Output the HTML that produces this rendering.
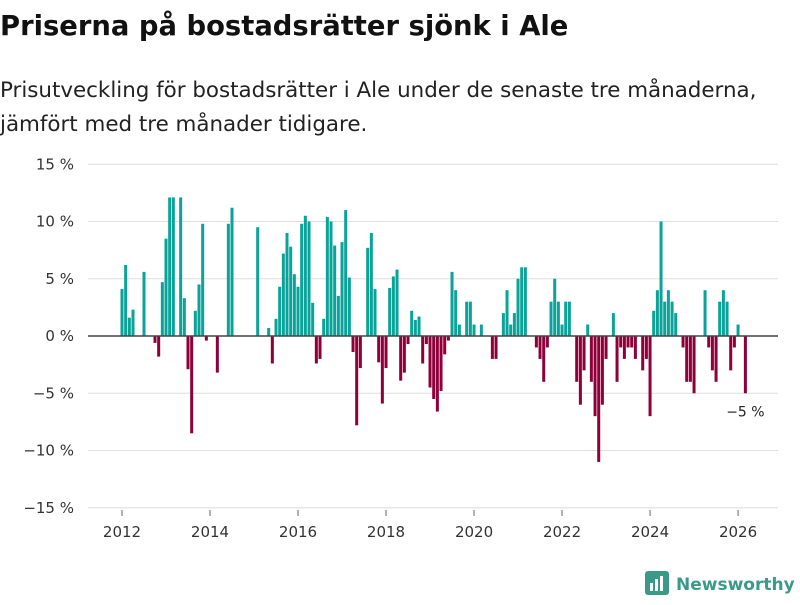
<!DOCTYPE html>
<html><head><meta charset="utf-8"><style>
body{margin:0;background:#fff;width:800px;height:600px;overflow:hidden;font-family:"Liberation Sans","DejaVu Sans",sans-serif;}
svg text{font-family:"DejaVu Sans","Liberation Sans",sans-serif;}
</style></head><body>
<svg id="chart" width="800" height="600" viewBox="0 0 800 600" xmlns="http://www.w3.org/2000/svg">
<text x="0" y="35" font-size="27.4" font-weight="bold" fill="#111">Priserna på bostadsrätter sjönk i Ale</text>
<text x="0" y="97" font-size="21.4" fill="#222">Prisutveckling för bostadsrätter i Ale under de senaste tre månaderna,</text>
<text x="0" y="131" font-size="21.4" fill="#222">jämfört med tre månader tidigare.</text>
<g id="grid"></g><g id="bars"></g><g id="axes"></g>
<g>
<rect x="645" y="571" width="24" height="24" rx="3" fill="#3a9a8a"/>
<rect x="650" y="583" width="3" height="8" fill="#fff"/><rect x="655" y="579" width="3" height="12" fill="#fff"/><rect x="660" y="576" width="3" height="15" fill="#fff"/>
<text x="676" y="590" font-size="17" font-weight="bold" fill="#3a9a8a">Newsworthy</text>
</g>
</svg>
<script>
const startYear = 2012;
const values = [4.1,6.2,1.6,2.3,null,null,5.6,null,null,-0.6,-1.8,4.7,
8.5,12.1,12.1,null,12.1,3.3,-2.9,-8.5,2.2,4.5,9.8,-0.4,
null,null,-3.2,null,null,9.8,11.2,null,null,null,null,null,
null,9.5,null,null,0.7,-2.4,1.5,4.3,7.2,9.0,7.8,5.4,
4.3,9.8,10.5,10.0,2.9,-2.4,-2.0,1.5,10.4,10.0,7.9,3.5,
8.2,11.0,5.1,-1.4,-7.8,-2.8,null,7.7,9.0,4.1,-2.3,-5.9,
-2.8,4.2,5.2,5.8,-3.9,-3.2,-0.7,2.2,1.4,1.7,-2.4,-0.7,
-4.5,-5.5,-6.6,-4.8,-1.6,-0.4,5.6,4.0,1.0,null,3.0,3.0,
1.0,null,1.0,null,null,-2.0,-2.0,null,2.0,4.0,1.0,2.0,
5.0,6.0,6.0,null,null,-1.0,-2.0,-4.0,-1.0,3.0,5.0,3.0,
1.0,3.0,3.0,null,-4.0,-6.0,-3.0,1.0,-4.0,-7.0,-11.0,-6.0,
-2.0,null,2.0,-4.0,-1.0,-2.0,-1.0,-1.0,-2.0,null,-3.0,-2.0,
-7.0,2.2,4.0,10.0,3.0,4.0,3.0,2.0,null,-1.0,-4.0,-4.0,
-5.0,null,null,4.0,-1.0,-3.0,-4.0,3.0,4.0,3.0,-3.0,-1.0,
1.0,null,-5.0];
const yTicks = [15,10,5,0,-5,-10,-15];
const yTickLabels = ["15 %","10 %","5 %","0 %","\u22125 %","\u221210 %","\u221215 %"];
const xTicks = [2012,2014,2016,2018,2020,2022,2024,2026];
const lastLabel = "\u22125 %";

const NS="http://www.w3.org/2000/svg";
const X0=122, STEP=3.667, Y0=336, PPU=11.45;
function xScale(m){return X0+m*STEP;}
function yScale(v){return Y0-v*PPU;}
function mk(tag,attrs,parent){const e=document.createElementNS(NS,tag);for(const k in attrs)e.setAttribute(k,attrs[k]);parent.appendChild(e);return e;}
const grid=document.getElementById('grid'),bars=document.getElementById('bars'),axes=document.getElementById('axes');
yTicks.forEach((t,i)=>{
  if(t!==0){const l=mk('line',{x1:88,x2:778,y1:yScale(t),y2:yScale(t),stroke:'#ddd','stroke-width':1},grid);
  
  }
  const tx=mk('text',{x:74,y:yScale(t)+5,'text-anchor':'end','font-size':15,fill:'#333'},axes);
  tx.textContent=yTickLabels[i];
  
  
});
const bw=STEP*0.82;
values.forEach((v,m)=>{
  if(v===null)return;
  const y=Math.min(yScale(v),Y0),h=Math.abs(yScale(v)-Y0);
  const r=mk('rect',{x:xScale(m)-bw/2,y:y,width:bw,height:h,fill:v>=0?'#0aa39a':'#8f003a'},bars);
  
  
});
const zl=mk('line',{x1:88,x2:778,y1:Y0,y2:Y0,stroke:'#444','stroke-width':1.5},axes);


xTicks.forEach(yr=>{
  const x=xScale((yr-startYear)*12);
  const tk=mk('line',{x1:x,x2:x,y1:510,y2:516,stroke:'#666','stroke-width':1},axes);
  
  
  const t=mk('text',{x:x,y:537,'text-anchor':'middle','font-size':15,fill:'#333'},axes);
  t.textContent=yr;
  
  
});
let li=values.length-1;while(values[li]===null)li--;
const lab=mk('text',{x:xScale(li),y:yScale(values[li])+23,'text-anchor':'middle','font-size':14,fill:'#222'},axes);
lab.textContent=lastLabel;


</script>
</body></html>
